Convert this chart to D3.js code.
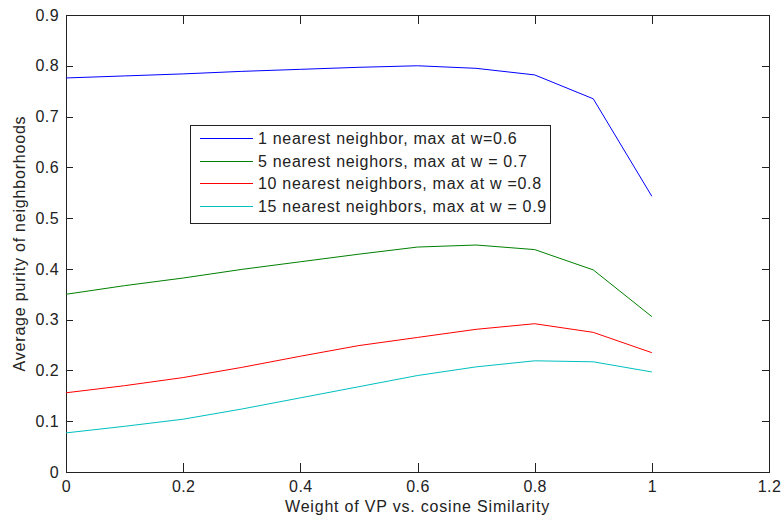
<!DOCTYPE html>
<html>
  <head>
    <meta charset="utf-8">
    <title>Average purity of neighborhoods</title>
    <script src="https://d3js.org/d3.v7.min.js"></script>
    <style>
      body { margin: 0; background: #fff; }
      svg { display: block; font-family: "Liberation Sans", Arial, sans-serif; }
      .tick text { font-size: 16px; fill: #222; letter-spacing: 0.4px; }
      .label { font-size: 16px; fill: #222; letter-spacing: 0.8px; }
      .legend text { font-size: 16px; fill: #222; letter-spacing: 0.7px; }
    </style>
  </head>
  <body>
    <div id="chart"></div>
    <script>
      // data
      var weights = [0, 0.1, 0.2, 0.3, 0.4, 0.5, 0.6, 0.7, 0.8, 0.9, 1.0];
      var nn1 = [0.776, 0.780, 0.784, 0.789, 0.793, 0.797, 0.800, 0.795, 0.782, 0.735, 0.543];
      var nn5 = [0.350, 0.367, 0.382, 0.399, 0.414, 0.429, 0.443, 0.447, 0.438, 0.398, 0.306];
      var nn10 = [0.156, 0.170, 0.186, 0.206, 0.228, 0.249, 0.265, 0.281, 0.292, 0.275, 0.235];
      var nn15 = [0.077, 0.090, 0.104, 0.124, 0.146, 0.168, 0.190, 0.207, 0.219, 0.217, 0.197];
      var seriesNames = [
        "1 nearest neighbor, max at w=0.6",
        "5 nearest neighors, max at w = 0.7",
        "10 nearest neighbors, max at w =0.8",
        "15 nearest neighbors, max at w = 0.9"
      ];
      var xTicks = [0, 0.2, 0.4, 0.6, 0.8, 1, 1.2];
      var yTicks = [0, 0.1, 0.2, 0.3, 0.4, 0.5, 0.6, 0.7, 0.8, 0.9];

      var series = [nn1, nn5, nn10, nn15];
      var colors = ["#0000ff", "#008000", "#ff0000", "#00bfbf"];

      var width = 783, height = 525;
      var margin = { top: 15, right: 14, bottom: 53, left: 66 };

      var svg = d3.select("#chart")
        .append("svg")
          .attr("width", width)
          .attr("height", height);

      // scales
      var x = d3.scaleLinear()
        .domain([0, 1.2])
        .range([margin.left, width - margin.right]);
      var y = d3.scaleLinear()
        .domain([0, 0.9])
        .range([height - margin.bottom, margin.top]);

      // axes, matlab style: ticks inside, mirrored on top and right
      var fmt = function(d) { return d3.format("")(+d.toFixed(1)); };
      svg.append("g")
        .attr("class", "axis")
        .attr("transform", "translate(0," + y(0) + ")")
        .call(d3.axisBottom(x).tickValues(xTicks).tickFormat(fmt).tickSizeInner(-9).tickSizeOuter(0).tickPadding(9));
      svg.append("g")
        .attr("class", "axis")
        .attr("transform", "translate(0," + y(0.9) + ")")
        .call(d3.axisTop(x).tickValues(xTicks).tickFormat("").tickSizeInner(-9).tickSizeOuter(0));
      svg.append("g")
        .attr("class", "axis")
        .attr("transform", "translate(" + x(0) + ",0)")
        .call(d3.axisLeft(y).tickValues(yTicks).tickFormat(fmt).tickSizeInner(-7).tickSizeOuter(0).tickPadding(7));
      svg.append("g")
        .attr("class", "axis")
        .attr("transform", "translate(" + x(1.2) + ",0)")
        .call(d3.axisRight(y).tickValues(yTicks).tickFormat("").tickSizeInner(-7).tickSizeOuter(0));
      svg.selectAll(".axis path, .axis line")
        .attr("stroke", "#222")
        .attr("shape-rendering", "crispEdges");

      // lines
      var line = d3.line()
        .x(function(d, i) { return x(weights[i]); })
        .y(function(d) { return y(d); });
      svg.selectAll(".series")
        .data(series)
        .enter().append("path")
          .attr("class", "series")
          .attr("d", line)
          .attr("fill", "none")
          .attr("stroke", function(d, i) { return colors[i]; })
          .attr("stroke-width", 1);

      // axis labels
      svg.append("text")
        .attr("class", "label")
        .attr("x", (x(0) + x(1.2)) / 2)
        .attr("y", 512)
        .attr("text-anchor", "middle")
        .text("Weight of VP vs. cosine Similarity");
      svg.append("text")
        .attr("class", "label")
        .attr("transform", "translate(25," + (y(0) + y(0.9)) / 2 + ") rotate(-90)")
        .attr("text-anchor", "middle")
        .text("Average purity of neighborhoods");

      // legend
      var legend = svg.append("g")
        .attr("class", "legend");
      legend.append("rect")
        .attr("x", 190.5)
        .attr("y", 125.5)
        .attr("width", 360)
        .attr("height", 98)
        .attr("fill", "#fff")
        .attr("stroke", "#222");
      var rows = legend.selectAll(".row")
        .data(seriesNames)
        .enter().append("g")
          .attr("class", "row")
          .attr("transform", function(d, i) { return "translate(0," + Math.round(138 + i * 22.5) + ")"; });
      rows.append("line")
        .attr("x1", 200)
        .attr("x2", 253)
        .attr("y1", 0.5)
        .attr("y2", 0.5)
        .attr("stroke", function(d, i) { return colors[i]; });
      rows.append("text")
        .attr("x", 258)
        .attr("dy", "0.35em")
        .text(function(d) { return d; });
    </script>
  </body>
</html>
